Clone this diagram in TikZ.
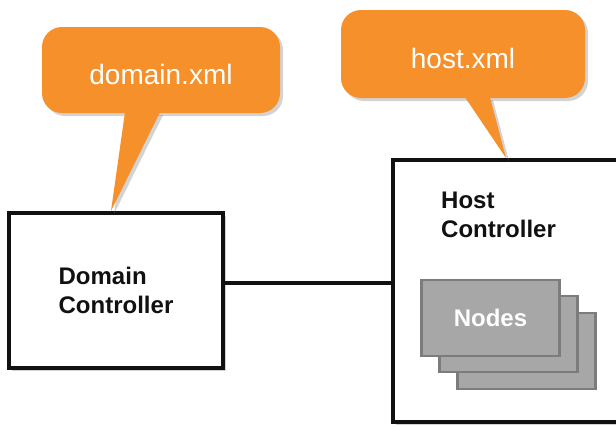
\documentclass[tikz,border=0pt]{standalone}
\usepackage{fontspec}
\setmainfont{Liberation Sans}
\usetikzlibrary{positioning, shadows, calc}
\definecolor{ink}      {HTML}{111111}
\definecolor{xmlorange}{HTML}{F5902A}
\definecolor{cardgray} {HTML}{A7A7A7}
\definecolor{cardedge} {HTML}{7C7C7C}
\tikzset{
  softshadow/.style = {drop shadow={opacity=0.35, shadow xshift=3pt, shadow yshift=-3pt}},
  ctrlbox/.style    = {draw=ink, line width=4pt, fill=white, softshadow, inner sep=0pt},
  boxlabel/.style   = {font=\fontsize{24}{29}\selectfont\bfseries, text=ink, align=left},
  bubble/.style     = {fill=xmlorange, rounded corners=20pt, softshadow,
                       minimum width=238pt, minimum height=86pt, inner sep=0pt,
                       text height=30pt, font=\fontsize{28}{32}\selectfont, text=white},
  tail/.style       = {fill=xmlorange, softshadow},
  nodecard/.style   = {draw=cardedge, line width=2.5pt, fill=cardgray,
                       minimum width=138pt, minimum height=76pt, inner sep=0pt,
                       font=\fontsize{24}{29}\selectfont\bfseries, text=white},
  link/.style       = {draw=ink, line width=4pt},
}

\begin{document}
\begin{tikzpicture}[x=1pt, y=-1pt]

  \clip (0,0) rectangle (616,426);

  % --- controllers ---
  \node[ctrlbox, boxlabel, minimum width=214pt, minimum height=155pt] (dc)
        at (116,290.5) {Domain\\Controller};
  \node[ctrlbox, minimum width=280pt, minimum height=262pt] (hc) at (533,291) {};
  \node[boxlabel, anchor=north west, inner sep=0pt] (hclabel)
        at ([xshift=50pt, yshift=-34pt]hc.north west) {Host\\Controller};

  % --- stacked nodes inside the host ---
  \node[nodecard] (card3) at (526.5,351) {};
  \node[nodecard] (card2) at ([xshift=-18pt, yshift=17pt]card3.center) {};
  \node[nodecard] (card1) at ([xshift=-18pt, yshift=16pt]card2.center) {Nodes};

  % --- link ---
  \draw[link] ([yshift=8pt]dc.east) -- ([yshift=8pt]dc.east -| hc.west);

  % --- config files ---
  \node[bubble] (domxml) at (161,70) {domain.xml};
  \node[bubble, minimum width=244pt, minimum height=88pt] (hostxml) at (463,54) {host.xml};

  \fill[tail] ([xshift=-36pt, yshift=1pt]domxml.south) -- ([xshift=104pt]dc.north west)
        -- ([xshift=-1pt, yshift=1pt]domxml.south) -- cycle;
  \fill[tail] ([xshift=2pt, yshift=1pt]hostxml.south) -- ([xshift=115pt]hc.north west)
        -- ([xshift=27pt, yshift=1pt]hostxml.south) -- cycle;

\end{tikzpicture}
\end{document}
